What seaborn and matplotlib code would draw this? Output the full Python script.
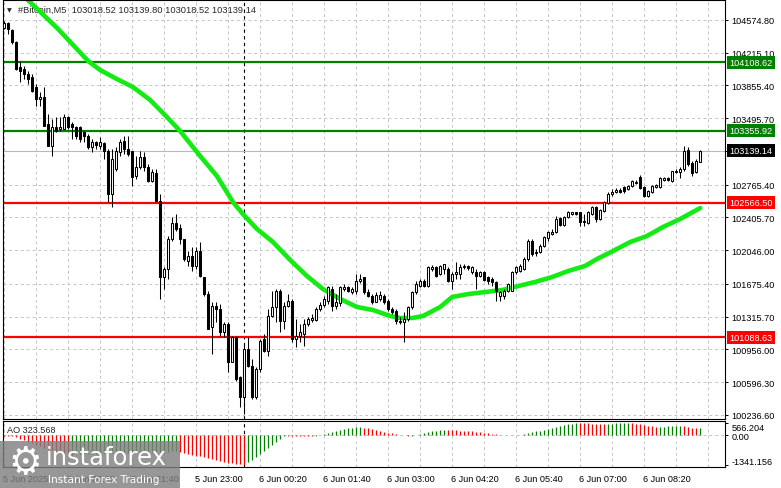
import numpy as np
import pandas as pd
import matplotlib
matplotlib.use("Agg")
import matplotlib.pyplot as plt
import matplotlib.transforms as mtransforms
from matplotlib.patches import Rectangle
import seaborn as sns

# #Bitcoin M5, one bar every 5 minutes starting 5 Jun 2025 19:00
opens = [104484, 104539, 104462, 104330, 104056, 104034, 103979, 103946, 103836, 103705,
         103727, 103430, 103189, 103397, 103375, 103375, 103507, 103430, 103397, 103397,
         103342, 103298, 103178, 103233, 103189, 103222, 103134, 102662, 102936, 103123,
         103244, 103156, 103134, 102859, 102958, 103068, 102958, 102805, 102892, 102585,
         101751, 101839, 102168, 102344, 102289, 102168, 101927, 101981, 101872, 102037,
         101751, 101564, 101202, 101433, 101400, 101147, 101235, 100818, 101092, 100654,
         100434, 100961, 100774, 100434, 100741, 101071, 100939, 101323, 101422, 101597,
         101268, 101433, 101488, 101071, 101103, 101125, 101235, 101279, 101279, 101400,
         101444, 101488, 101619, 101433, 101466, 101619, 101641, 101586, 101597, 101707,
         101751, 101586, 101543, 101477, 101510, 101543, 101488, 101400, 101378, 101268,
         101257, 101290, 101422, 101586, 101652, 101707, 101652, 101839, 101861, 101784,
         101839, 101839, 101707, 101784, 101784, 101861, 101872, 101806, 101806, 101762,
         101806, 101751, 101729, 101696, 101543, 101543, 101597, 101597, 101806, 101817,
         101839, 101949, 102146, 102015, 102026, 102091, 102179, 102223, 102245, 102399,
         102322, 102410, 102442, 102464, 102464, 102366, 102344, 102442, 102519, 102388,
         102475, 102563, 102662, 102684, 102706, 102739, 102717, 102750, 102783, 102848,
         102739, 102640, 102684, 102739, 102739, 102816, 102837, 102805, 102903, 102903,
         102936, 103145, 103002, 102903, 103018.52]
highs = [104561, 104550, 104473, 104341, 104122, 104067, 104012, 103979, 103869, 103781,
         103836, 103540, 103485, 103507, 103507, 103540, 103518, 103452, 103408, 103408,
         103353, 103320, 103266, 103244, 103287, 103233, 103156, 103156, 103178, 103266,
         103298, 103298, 103134, 103079, 103134, 103123, 102991, 102936, 102936, 102662,
         101861, 102201, 102410, 102442, 102333, 102168, 102037, 102080, 102080, 102135,
         101751, 101597, 101477, 101477, 101455, 101257, 101257, 101103, 101103, 100664,
         101016, 101092, 100851, 100763, 101071, 101125, 101400, 101597, 101619, 101619,
         101477, 101564, 101510, 101290, 101235, 101290, 101312, 101345, 101422, 101477,
         101543, 101652, 101652, 101564, 101652, 101674, 101652, 101641, 101784, 101784,
         101751, 101619, 101564, 101586, 101597, 101564, 101510, 101422, 101400, 101312,
         101367, 101433, 101597, 101707, 101729, 101729, 101872, 101883, 101872, 101883,
         101894, 101861, 101806, 101916, 101894, 101894, 101883, 101872, 101839, 101817,
         101817, 101762, 101751, 101707, 101597, 101619, 101685, 101817, 101872, 101894,
         101971, 102168, 102168, 102058, 102113, 102201, 102256, 102278, 102420, 102410,
         102420, 102475, 102464, 102464, 102464, 102442, 102475, 102530, 102530, 102497,
         102585, 102684, 102717, 102728, 102728, 102750, 102761, 102816, 102816, 102870,
         102750, 102706, 102761, 102772, 102848, 102848, 102848, 102914, 102936, 102958,
         103189, 103178, 103024, 103046, 103139.80]
lows = [104473, 104418, 104308, 104023, 103891, 103924, 103869, 103781, 103628, 103628,
        103408, 103189, 103079, 103342, 103353, 103375, 103375, 103266, 103266, 103233,
        103233, 103156, 103123, 103156, 103156, 103046, 102574, 102519, 102914, 103079,
        103101, 103079, 102750, 102827, 102936, 102914, 102794, 102794, 102574, 101510,
        101619, 101729, 102146, 102256, 102113, 101927, 101872, 101817, 101839, 101751,
        101543, 101180, 100906, 101257, 101103, 101092, 100708, 100818, 100610, 100324,
        100247, 100763, 100412, 100412, 100708, 100928, 100884, 101312, 101257, 101147,
        101180, 101422, 101038, 100983, 101038, 100994, 101213, 101257, 101268, 101378,
        101422, 101455, 101378, 101400, 101433, 101597, 101586, 101564, 101564, 101685,
        101564, 101532, 101455, 101477, 101488, 101455, 101378, 101345, 101235, 101235,
        101038, 101268, 101400, 101564, 101641, 101641, 101641, 101817, 101751, 101773,
        101784, 101696, 101619, 101729, 101729, 101839, 101828, 101784, 101619, 101751,
        101707, 101674, 101652, 101488, 101488, 101510, 101586, 101597, 101784, 101806,
        101828, 101927, 101981, 101981, 102015, 102080, 102146, 102212, 102234, 102311,
        102311, 102399, 102431, 102431, 102311, 102311, 102333, 102431, 102355, 102377,
        102464, 102552, 102640, 102673, 102673, 102673, 102706, 102739, 102772, 102717,
        102629, 102629, 102673, 102728, 102728, 102805, 102805, 102794, 102892, 102837,
        102914, 102969, 102859, 102892, 103018.52]
closes = [104539, 104473, 104330, 104034, 104012, 103979, 103924, 103792, 103705, 103727,
          103408, 103189, 103397, 103353, 103397, 103507, 103397, 103397, 103298, 103266,
          103298, 103178, 103233, 103200, 103233, 103134, 102662, 103046, 103134, 103233,
          103156, 103101, 102848, 102958, 103068, 102958, 102805, 102903, 102585, 101751,
          101839, 102168, 102344, 102278, 102168, 101949, 101981, 101872, 102037, 101762,
          101564, 101180, 101433, 101400, 101147, 101235, 100818, 101092, 100632, 100434,
          100961, 100774, 100434, 100741, 101049, 100939, 101323, 101422, 101597, 101268,
          101433, 101488, 101071, 101103, 101147, 101235, 101290, 101301, 101400, 101444,
          101510, 101641, 101433, 101477, 101641, 101641, 101597, 101619, 101707, 101729,
          101586, 101543, 101477, 101553, 101553, 101477, 101400, 101367, 101268, 101257,
          101290, 101422, 101586, 101674, 101707, 101652, 101861, 101861, 101762, 101872,
          101894, 101707, 101784, 101806, 101861, 101872, 101850, 101861, 101762, 101806,
          101718, 101707, 101696, 101597, 101586, 101597, 101674, 101806, 101861, 101872,
          101949, 102146, 102004, 102026, 102091, 102190, 102245, 102245, 102388, 102322,
          102410, 102464, 102464, 102442, 102355, 102355, 102464, 102519, 102388, 102486,
          102574, 102662, 102684, 102706, 102684, 102695, 102750, 102805, 102794, 102728,
          102640, 102695, 102750, 102761, 102837, 102837, 102816, 102914, 102914, 102936,
          103134, 102991, 102892, 103024, 103139.14]

# moving average (bar number, price)
ma_bar = [5.8, 13.6, 21.1, 24.1, 28.3, 32.3, 36.6, 40.8, 44.1, 49.1, 53.3, 57.3, 59.8,
          63.3, 67.3, 71.6, 75.8, 79.8, 84.1, 88.3, 92.3, 96.6, 99.1, 102.1, 104.8, 109.1,
          112.1, 116.1, 120.3, 124.6, 128.6, 132.8, 137.1, 141.1, 145.3, 148.3, 152.3,
          156.6, 160.8, 164.8, 169.1, 174.1]
ma_price = [104802, 104473, 104122, 104023, 103924, 103836, 103694, 103507, 103353, 103079,
            102859, 102574, 102442, 102278, 102135, 101938, 101762, 101619, 101510, 101422,
            101389, 101323, 101301, 101301, 101323, 101422, 101532, 101564, 101586, 101608,
            101652, 101696, 101751, 101817, 101872, 101949, 102036, 102135, 102201, 102300,
            102388, 102508]

# Awesome Oscillator
ao = [-15, -25, -40, -60, -150, -230, -300, -370, -440, -500, -560, -620, -680, -740, -800, -860, -900,
      -880, -870, -860, -855, -845, -840, -835, -830, -825, -820, -815, -810, -800, -795, -790, -785,
      -780, -775, -770, -765, -760, -755, -750, -745, -740, -735, -730,
      -770, -800, -840, -880, -920, -960, -1000, -1040, -1080, -1120, -1160, -1200, -1240, -1270,
      -1300, -1320, -1341.156,
      -1230, -1120, -1000, -870, -730, -590, -450, -310, -170, -20,
      -25, -30, -35, -38, -42, -45, -48,
      -20, 20, 70, 120, 170, 210, 250, 280, 310, 335, 355, 365,
      350, 320, 280, 240, 200, 160, 120, 90, 60, 35, 10,
      -30, -15,
      30, 70, 110, 150, 185, 215, 235, 250,
      240, 230, 220, 210, 200, 190, 175, 160, 140, 120, 100, 70, 45, 20,
      10, 15, 5, 12,
      35, 65, 100, 135, 175, 215, 255, 295, 335, 375, 415, 455, 495, 535, 566.204,
      560, 550, 540, 530, 520, 515, 510,
      520, 532, 544, 555, 562, 565,
      550, 525, 495, 465, 435, 405, 380,
      388, 396, 404, 412, 420, 428,
      405, 375, 345, 315,
      323.568]

price_ticks = [104574.80, 104215.10, 103855.40, 103495.70, 103136.00, 102765.40, 102405.70,
               102046.00, 101675.40, 101315.70, 100956.00, 100596.30, 100236.60]
green_levels = [104108.62, 103355.92]
red_levels = [102566.50, 101088.63]
bid = 103139.14
ao_ticks = [566.204, 0.0, -1341.156]
time_labels = ["5 Jun 2025", "5 Jun 20:20", "5 Jun 21:40", "5 Jun 23:00", "6 Jun 00:20",
               "6 Jun 01:40", "6 Jun 03:00", "6 Jun 04:20", "6 Jun 05:40", "6 Jun 07:00",
               "6 Jun 08:20"]

sns.set_style("white")
plt.rcParams["font.family"] = ["Liberation Sans", "DejaVu Sans"]

df = pd.DataFrame({"o": opens, "h": highs, "l": lows, "c": closes})
df["bar"] = np.arange(len(df))
up = df["c"] >= df["o"]

W, H = 781, 489
fig = plt.figure(figsize=(W / 100, H / 100), dpi=100)
ax = fig.add_axes([2.7 / W, 1 - 419.5 / H, 722.3 / W, 419 / H])
ax2 = fig.add_axes([2.7 / W, 1 - 468.3 / H, 722.3 / W, 46.6 / H])

grid_kw = dict(color="#c4c4c4", linestyle=(0, (3, 3)), linewidth=0.7)

for a in (ax, ax2):
    a.set_xlim(-0.25, 180.3)
    a.set_xticks(range(0, 176, 16))
    a.set_xticks(range(0, 181, 8), minor=True)
    a.grid(True, which="both", axis="x", **grid_kw)
    a.set_axisbelow(True)
    a.axvline(60, color="black", linestyle=(0, (3, 3)), linewidth=0.8, zorder=1)
    for s in a.spines.values():
        s.set_color("black")
        s.set_linewidth(0.8)
    a.yaxis.tick_right()
    a.tick_params(axis="y", which="major", length=2.5, width=0.7, pad=2.2,
                  labelsize=6.6, colors="black")
    a.tick_params(axis="x", which="minor", length=0)

# main price panel
ax.set_ylim(100198, 104797)
ax.set_yticks(price_ticks)
# the 103136.00 label sits under the bid box, so it is left blank
ax.set_yticklabels(["" if v == 103136.00 else f"{v:.2f}" for v in price_ticks])
ax.grid(True, axis="y", **grid_kw)
ax.tick_params(axis="x", which="major", length=0, labelbottom=False)

ax.axhline(bid, color="#b8b8b8", linewidth=0.8, zorder=1.2)
for lv in green_levels:
    ax.axhline(lv, color="#008000", linewidth=1.6, zorder=2)
for lv in red_levels:
    ax.axhline(lv, color="#ff0000", linewidth=1.6, zorder=2)

sns.lineplot(x=ma_bar, y=ma_price, ax=ax, color="#14eb14", linewidth=3.3, zorder=2.5)

ax.vlines(df["bar"], df["l"], df["h"], color="black", linewidth=0.75, zorder=3)
body_lo = np.minimum(df["o"], df["c"])
body_h = np.maximum((df["c"] - df["o"]).abs(), 1)
ax.bar(df["bar"][up], body_h[up], bottom=body_lo[up], width=0.5, facecolor="white",
       edgecolor="black", linewidth=0.75, zorder=4)
ax.bar(df["bar"][~up], body_h[~up], bottom=body_lo[~up], width=0.5, facecolor="black",
       edgecolor="black", linewidth=0.75, zorder=4)

ax.text((18 - 2.7) / 722.3, 1 - 9.5 / 419, "#Bitcoin,M5  103018.52 103139.80 103018.52 103139.14",
        transform=ax.transAxes, fontsize=6.7, va="center", ha="left", zorder=2.2)
ax.text((9 - 2.7) / 722.3, 1 - 10 / 419, "▼", transform=ax.transAxes, fontsize=4.5,
        va="center", ha="center", family="DejaVu Sans")

lab_tr = mtransforms.blended_transform_factory(ax.transAxes, ax.transData)
boxes = [(v, "#008000") for v in green_levels] + [(v, "#ff0000") for v in red_levels] + [(bid, "black")]
for v, col in boxes:
    ax.text((729.5 - 2.7) / 722.3, v, f"{v:.2f}", transform=lab_tr, fontsize=6.6, color="white",
            va="center", ha="left", clip_on=False, zorder=10,
            bbox=dict(boxstyle="square,pad=0.22", facecolor=col, edgecolor="none"))

# AO panel
ax2.set_ylim(-1453, 663)
ax2.axhline(0, zorder=0.5, **grid_kw)
ao_s = pd.Series(ao)
ao_col = np.where(ao_s.diff().fillna(-1) >= 0, "#008000", "#ff0000")
ax2.vlines(np.arange(len(ao)), 0, ao, colors=ao_col, linewidth=0.9, zorder=3)
ax2.set_yticks(ao_ticks)
ax2.set_yticklabels(["566.204", "0.00", "-1341.156"])
ylabs = ax2.get_yticklabels()
ylabs[0].set_transform(ylabs[0].get_transform() + mtransforms.ScaledTranslation(0, -4 / 100, fig.dpi_scale_trans))
ylabs[2].set_transform(ylabs[2].get_transform() + mtransforms.ScaledTranslation(0, 4.5 / 100, fig.dpi_scale_trans))
ax2.set_xticklabels(time_labels)
ax2.tick_params(axis="x", which="major", length=2.5, width=0.7, pad=2, labelsize=6.6, colors="black")
for t in ax2.get_xticklabels():
    t.set_horizontalalignment("left")
    t.set_transform(t.get_transform() + mtransforms.ScaledTranslation(-1 / 100, 0, fig.dpi_scale_trans))
ax2.text((7 - 2.7) / 722.3, 0.807, "AO 323.568", transform=ax2.transAxes, fontsize=6.6,
         va="center", ha="left", zorder=5)

# instaforex watermark
fig.patches.append(Rectangle((0, 0), 180 / W, 47.3 / H, transform=fig.transFigure,
                             facecolor="#808080", alpha=0.82, edgecolor="none", zorder=10))
fig.text(25 / W, 1 - 464 / H, "⚙", color="white", fontsize=27, ha="center", va="center",
         family="DejaVu Sans", zorder=11)
fig.text(46 / W, 1 - 458 / H, "instaforex", color="white", fontsize=17.5, ha="left", va="center",
         family="DejaVu Sans", zorder=11)
fig.text(48 / W, 1 - 480 / H, "Instant Forex Trading", color="white", fontsize=7.6, ha="left",
         va="center", family="DejaVu Sans", zorder=11)

fig.savefig("out.png", dpi=100)
